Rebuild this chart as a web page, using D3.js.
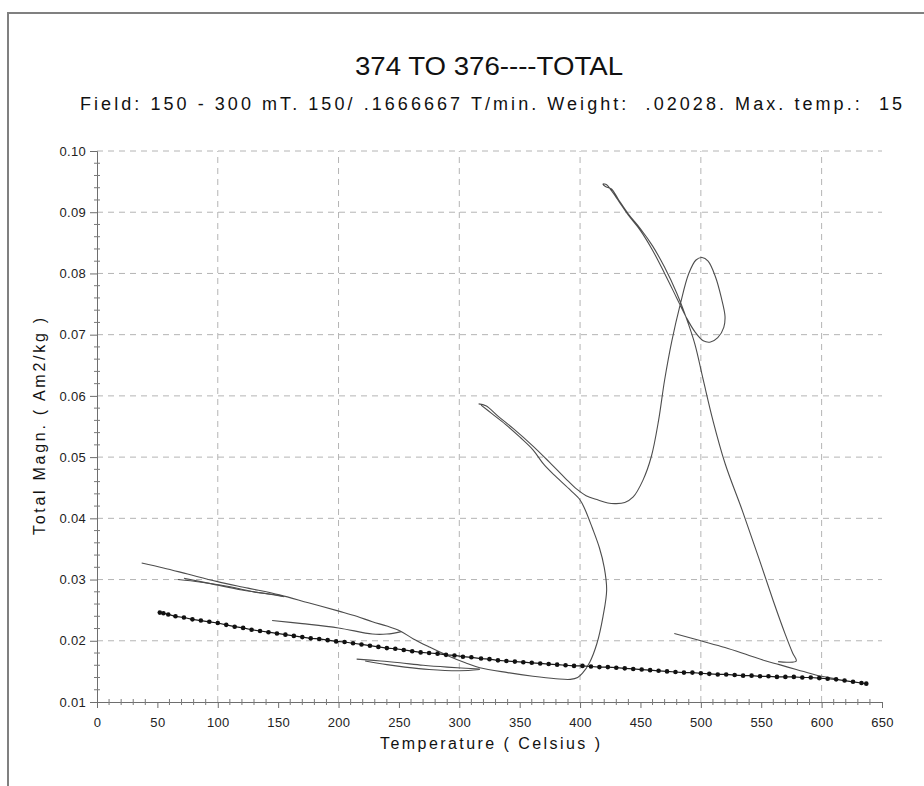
<!DOCTYPE html>
<html>
<head>
<meta charset="utf-8">
<script src="https://cdn.jsdelivr.net/npm/d3@7"></script>
<style>
  body { margin: 0; background: #fff; }
  svg { display: block; }
</style>
</head>
<body>
<div id="chart"></div>
<script>
// tick values
const tempTicks = [0, 50, 100, 150, 200, 250, 300, 350, 400, 450, 500, 550, 600, 650];
const magnTicks = [0.01, 0.02, 0.03, 0.04, 0.05, 0.06, 0.07, 0.08, 0.09, 0.10];
const gridTemps = [100, 200, 300, 400, 500, 600];

// dotted run (temperature, magnetisation)
const dotTemp = [52, 55, 59, 65, 72, 79, 86, 93, 100, 107, 114, 121, 128, 135, 142, 149, 156, 163, 170, 177,
  184, 191, 198, 205, 212, 219, 226, 233, 240, 247, 254, 261, 268, 275, 282, 289, 296, 303, 310, 318,
  325, 332, 339, 346, 353, 360, 367, 374, 381, 388, 395, 402, 409, 416, 423, 430, 437, 444, 451, 458,
  465, 472, 479, 486, 493, 500, 507, 514, 521, 528, 535, 542, 549, 556, 563, 570, 577, 584, 591, 598,
  605, 612, 619, 626, 633, 637];
const dotMagn = [0.0246, 0.0245, 0.0243, 0.0240, 0.0238, 0.0235, 0.0233, 0.0231, 0.0229, 0.0226, 0.0223, 0.0221, 0.0218, 0.0216, 0.0214, 0.0212, 0.0210, 0.0208, 0.0206, 0.0204,
  0.0203, 0.0201, 0.0199, 0.0198, 0.0196, 0.0194, 0.0192, 0.0190, 0.0188, 0.0187, 0.0185, 0.0183, 0.0181, 0.0180, 0.0179, 0.0177, 0.0176, 0.0174, 0.0173, 0.0171,
  0.0170, 0.0168, 0.0167, 0.0166, 0.0165, 0.0164, 0.0163, 0.0162, 0.0161, 0.0160, 0.0159, 0.0159, 0.0158, 0.0157, 0.0157, 0.0156, 0.0155, 0.0154, 0.0153, 0.0152,
  0.0151, 0.0150, 0.0149, 0.0148, 0.0148, 0.0147, 0.0146, 0.0145, 0.0145, 0.0144, 0.0143, 0.0143, 0.0142, 0.0142, 0.0141, 0.0141, 0.0141, 0.0140, 0.0140, 0.0139,
  0.0138, 0.0137, 0.0135, 0.0133, 0.0131, 0.0130];

// thin traces, [temperature, magnetisation]
const runA = [[37,0.0327],[55,0.0319],[75,0.0309],[99,0.0297],[125,0.0286],[151,0.0275],[175,0.0262],[201,0.0248],
  [215,0.0240],[228,0.0231],[240,0.0224],[251,0.0216],[262,0.0203],[275,0.0190],[290,0.0176],[305,0.0164],
  [317,0.0156],[340,0.0148],[361,0.0142],[380,0.0138],[392,0.0137],[398,0.0140],[402,0.0147],[408,0.0165],
  [414,0.0196],[419,0.0240],[422,0.0283],[420,0.0320],[416,0.0352],[410,0.0385],[404,0.0415],[400,0.0430],
  [392,0.0446],[380,0.0468],[370,0.0488],[361,0.0512],[350,0.0533],[338,0.0554],[327,0.0571],[318,0.0585]];
const runB = [[316,0.0587],[322,0.0584],[332,0.0567],[345,0.0546],[361,0.0518],[375,0.0491],[388,0.0465],[397,0.0448],
  [405,0.0437],[415,0.0430],[423,0.0425],[430,0.0424],[437,0.0426],[444,0.0435],[452,0.0462],[459,0.0501],
  [465,0.0560],[470,0.0626],[476,0.0690],[483,0.0750],[490,0.0800],[496,0.0822],[501,0.0826],[506,0.0820],
  [512,0.0795],[517,0.0760],[520,0.0730],[519,0.0712],[514,0.0695],[508,0.0688],[502,0.0690],[495,0.0705],
  [488,0.0728],[480,0.0760],[470,0.0800],[460,0.0838],[450,0.0870],[440,0.0895],[432,0.0918],[426,0.0935],
  [422,0.0945],[419,0.0946],[421,0.0942],[426,0.0938],[432,0.0920],[440,0.0897],[450,0.0873],[460,0.0845],
  [470,0.0810],[480,0.0768],[488,0.0727],[495,0.0685],[502,0.0626],[510,0.0560],[520,0.0490],[535,0.0409],
  [548,0.0335],[560,0.0265],[570,0.0210],[576,0.0180],[579,0.0167],[572,0.0165],[564,0.0166]];
const runC = [[145,0.0233],[170,0.0228],[200,0.0221],[228,0.0211],[240,0.0211],[252,0.0215]];
const runD = [[67,0.0300],[85,0.0296],[102,0.0291],[118,0.0285],[132,0.0279],[145,0.0276],[154,0.0273]];
const runE = [[72,0.0302],[95,0.0293],[120,0.0283],[140,0.0277],[155,0.0272]];
const runF = [[215,0.0170],[235,0.0167],[251,0.0164],[270,0.0160],[290,0.0157],[317,0.0154]];
const runG = [[222,0.0167],[240,0.0161],[255,0.0157],[275,0.0153],[300,0.0151],[317,0.0153]];
const runH = [[478,0.0212],[500,0.0200],[520,0.0189],[540,0.0176],[554,0.0167],[565,0.0161],[579,0.0153],
  [590,0.0147],[600,0.0142],[612,0.0138]];
const traces = [runA, runB, runC, runD, runE, runF, runG, runH];

const W = 924, H = 786;
const font = '"Liberation Sans", Arial, sans-serif';

const svg = d3.select("#chart").append("svg")
    .attr("width", W)
    .attr("height", H);

svg.append("rect").attr("width", W).attr("height", H).attr("fill", "#fff");

// window frame
svg.append("path")
    .attr("d", `M8,${H} L8,13 L${W},13`)
    .attr("fill", "none")
    .attr("stroke", "#808080")
    .attr("stroke-width", 2);

const x = d3.scaleLinear().domain([0, 650]).range([97, 882]);
const y = d3.scaleLinear().domain([0.01, 0.10]).range([702, 151]);

// grid
const grid = svg.append("g")
    .attr("stroke", "#b4b4b4")
    .attr("stroke-width", 1)
    .attr("stroke-dasharray", "6,5");

grid.selectAll(".hgrid")
  .data(magnTicks.slice(1))
  .join("line")
    .attr("class", "hgrid")
    .attr("x1", x(0)).attr("x2", x(650))
    .attr("y1", d => y(d)).attr("y2", d => y(d));

grid.selectAll(".vgrid")
  .data(gridTemps)
  .join("line")
    .attr("class", "vgrid")
    .attr("x1", d => x(d)).attr("x2", d => x(d))
    .attr("y1", y(0.01)).attr("y2", y(0.10));

// axes
const xAxis = svg.append("g")
    .attr("transform", `translate(0,${y(0.01)})`)
    .call(d3.axisBottom(x).tickValues(tempTicks).tickSize(6).tickPadding(10).tickFormat(d3.format("d")));

const yAxis = svg.append("g")
    .attr("transform", `translate(${x(0)},0)`)
    .call(d3.axisLeft(y).tickValues(magnTicks).tickSize(7).tickPadding(4).tickFormat(d3.format(".2f")));

[xAxis, yAxis].forEach(a => {
  a.select(".domain").attr("stroke", "#6e6e6e");
  a.selectAll(".tick line").attr("stroke", "#6e6e6e");
  a.selectAll("text")
    .attr("font-family", font)
    .attr("font-size", 13)
    .attr("letter-spacing", 0.3)
    .attr("fill", "#222");
});

// minor ticks
const minorX = d3.range(0, 651, 10).filter(d => d % 50 !== 0);
svg.append("g").selectAll("line")
  .data(minorX)
  .join("line")
    .attr("x1", d => x(d)).attr("x2", d => x(d))
    .attr("y1", y(0.01) - 3).attr("y2", y(0.01) + 3)
    .attr("stroke", "#7a7a7a");

const minorY = d3.range(1, 46).map(i => 0.01 + i * 0.002).filter(d => Math.abs(d * 100 - Math.round(d * 100)) > 1e-6);
svg.append("g").selectAll("line")
  .data(minorY)
  .join("line")
    .attr("x1", x(0) - 3).attr("x2", x(0) + 3)
    .attr("y1", d => y(d)).attr("y2", d => y(d))
    .attr("stroke", "#7a7a7a");

// traces
const line = d3.line()
    .x(d => x(d[0]))
    .y(d => y(d[1]))
    .curve(d3.curveCatmullRom.alpha(0.5));

svg.append("g").selectAll("path")
  .data(traces)
  .join("path")
    .attr("d", line)
    .attr("fill", "none")
    .attr("stroke", "#4d4d4d")
    .attr("stroke-width", 1.1);

// dotted run
const dots = dotTemp.map((t, i) => [t, dotMagn[i]]);
svg.append("path")
    .datum(dots)
    .attr("d", d3.line().x(d => x(d[0])).y(d => y(d[1])))
    .attr("fill", "none")
    .attr("stroke", "#1a1a1a")
    .attr("stroke-width", 1.2);

svg.append("g").selectAll("circle")
  .data(dots)
  .join("circle")
    .attr("cx", d => x(d[0]))
    .attr("cy", d => y(d[1]))
    .attr("r", 2.3)
    .attr("fill", "#111");

// titles
svg.append("text")
    .attr("x", 489)
    .attr("y", 75)
    .attr("text-anchor", "middle")
    .attr("font-family", font)
    .attr("font-size", 25)
    .attr("textLength", 268)
    .attr("lengthAdjust", "spacingAndGlyphs")
    .attr("fill", "#111")
    .text("374 TO 376----TOTAL");

svg.append("text")
    .attr("x", 491)
    .attr("y", 110)
    .attr("text-anchor", "middle")
    .attr("font-family", font)
    .attr("font-size", 18)
    .attr("textLength", 822)
    .attr("lengthAdjust", "spacing")
    .attr("fill", "#111")
    .attr("xml:space", "preserve")
    .style("white-space", "pre")
    .text("Field: 150 - 300 mT. 150/ .1666667 T/min. Weight:  .02028. Max. temp.:  15");

svg.append("text")
    .attr("x", 490)
    .attr("y", 748.5)
    .attr("text-anchor", "middle")
    .attr("font-family", font)
    .attr("font-size", 16)
    .attr("textLength", 220)
    .attr("lengthAdjust", "spacing")
    .attr("fill", "#111")
    .text("Temperature ( Celsius )");

svg.append("text")
    .attr("transform", "translate(44.5,426.5) rotate(-90)")
    .attr("text-anchor", "middle")
    .attr("font-family", font)
    .attr("font-size", 16)
    .attr("textLength", 217)
    .attr("lengthAdjust", "spacing")
    .attr("fill", "#111")
    .text("Total Magn. ( Am2/kg )");
</script>
</body>
</html>
